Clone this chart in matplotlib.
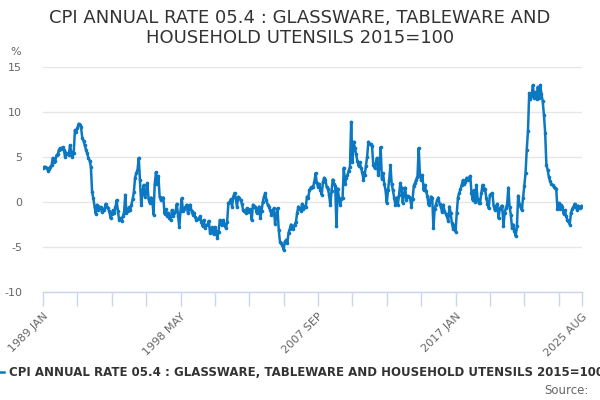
import matplotlib
matplotlib.use("Agg")
import matplotlib.pyplot as plt
import numpy as np

title = "CPI ANNUAL RATE 05.4 : GLASSWARE, TABLEWARE AND\nHOUSEHOLD UTENSILS 2015=100"
series_name = "CPI ANNUAL RATE 05.4 : GLASSWARE, TABLEWARE AND HOUSEHOLD UTENSILS 2015=100"
months = ["JAN", "FEB", "MAR", "APR", "MAY", "JUN", "JUL", "AUG", "SEP", "OCT", "NOV", "DEC"]
categories = [f"{y} {m}" for y in range(1989, 2026) for m in months][:440]

v1989 = [3.8, 3.9, 3.9, 3.8, 3.5, 3.7, 3.9, 4.1, 4.9, 4.5, 4.6, 5.2]
v1990 = [5.3, 5.8, 6.0, 5.9, 6.1, 5.8, 5.0, 5.5, 5.3, 5.2, 6.3, 5.6]
v1991 = [5.0, 5.4, 8.0, 7.8, 8.2, 8.7, 8.6, 8.3, 7.1, 6.8, 6.3, 5.8]
v1992 = [5.4, 4.9, 4.6, 3.9, 1.1, 0.4, -0.5, -1.3, -0.3, -0.9, -0.5, -0.6]
v1993 = [-1.1, -0.8, -0.9, -0.2, -0.5, -0.7, -1.0, -1.8, -1.3, -0.9, -1.2, -0.6]
v1994 = [0.2, -1.0, -2.0, -1.8, -2.1, -1.6, -1.2, 0.8, -1.2, -1.0, -0.6, -0.9]
v1995 = [-0.3, 0.3, 1.1, 2.7, 3.2, 3.6, 4.9, 2.4, -0.3, 1.0, 1.9, 0.6]
v1996 = [1.0, 2.1, 0.3, -0.1, 0.5, 0.3, -1.4, 2.0, 3.3, 2.0, 2.9, 0.6]
v1997 = [0.2, 0.4, 0.5, -1.3, -0.8, -1.5, -1.2, -1.8, -2.0, -0.9, -1.6, -1.2]
v1998 = [-1.0, -0.2, -1.5, -2.8, -1.0, 0.4, -1.0, -0.8, -0.6, -0.3, -1.2, -0.8]
v1999 = [-0.3, -1.0, -1.4, -1.2, -1.7, -2.0, -1.9, -1.8, -1.6, -2.2, -2.7, -2.0]
v2000 = [-2.9, -2.6, -2.5, -2.1, -3.4, -3.0, -2.8, -3.6, -2.8, -3.2, -4.0, -3.3]
v2001 = [-2.0, -2.4, -2.6, -2.0, -2.6, -2.9, -2.2, -0.1, 0.0, 0.3, -0.5, 0.6]
v2002 = [1.0, 0.4, -0.5, 0.6, 0.4, 0.2, -0.2, -0.9, -1.0, -1.2, -0.7, -1.1]
v2003 = [-1.0, -0.8, -2.0, -0.3, -0.6, -0.5, -1.2, -0.8, -0.5, -1.8, -1.0, 0.0]
v2004 = [0.6, 1.0, 0.2, -0.3, -0.5, -0.9, -1.4, -1.3, -0.7, -2.4, -1.5, -0.7]
v2005 = [-3.1, -4.4, -4.6, -4.8, -5.3, -4.4, -4.2, -4.6, -3.4, -3.0, -2.5, -2.8]
v2006 = [-3.0, -2.5, -2.2, -1.2, -0.5, -0.8, -1.0, -0.2, -0.8, -0.5, -0.6, 0.6]
v2007 = [0.4, 1.3, 1.6, 1.7, 1.7, 2.2, 3.2, 2.1, 1.7, 2.0, 1.3, 0.8]
v2008 = [2.2, 2.7, 2.5, 1.7, 1.5, 0.8, -0.3, 1.2, 2.5, 2.0, 1.8, -2.7]
v2009 = [1.5, 0.5, -0.3, 0.3, 0.5, 3.8, 2.0, 2.7, 3.0, 3.5, 3.9, 8.9]
v2010 = [4.5, 6.7, 6.0, 5.3, 4.6, 4.0, 4.4, 3.8, 3.3, 2.5, 3.0, 4.0]
v2011 = [5.0, 6.7, 6.5, 6.4, 6.2, 4.1, 3.8, 4.3, 4.9, 3.0, 3.8, 6.1]
v2012 = [2.6, 3.2, 2.0, 1.3, -0.1, 1.3, 2.5, 4.1, 2.0, 1.3, 0.5, -0.3]
v2013 = [0.5, -0.3, 0.8, 2.1, 1.6, -0.1, 0.8, 1.6, 0.2, 0.7, 0.6, 0.4]
v2014 = [-0.5, 0.3, 1.8, 2.1, 2.5, 2.8, 6.0, 3.0, 2.4, 3.0, 1.3, 1.9]
v2015 = [1.2, 0.7, -0.3, 0.0, 0.6, 0.5, -2.9, -0.8, -0.3, 0.2, 0.5, -0.2]
v2016 = [-0.5, -1.1, -0.3, -1.0, -1.3, -1.6, -2.1, -0.5, -1.2, -2.3, -3.0, -2.6]
v2017 = [-3.3, -1.2, 0.5, 1.0, 1.4, 1.9, 2.4, 2.0, 2.2, 2.7, 2.5, 2.7]
v2018 = [2.9, 1.0, 0.2, 1.3, 0.0, 1.9, 0.3, -0.1, -0.1, 1.0, 1.9, 1.3]
v2019 = [1.5, 0.5, -0.2, -0.7, 0.8, 0.9, 1.0, -0.4, -0.9, -0.5, -0.2, -1.8]
v2020 = [-0.8, -0.5, -0.4, -2.7, -1.2, -0.7, -0.3, 1.6, -0.5, -1.4, -2.9, -2.5]
v2021 = [-3.2, -3.8, -2.7, 0.7, -0.2, -0.6, -0.9, 0.4, 1.8, 3.2, 5.8, 7.9]
v2022 = [12.1, 11.5, 11.8, 13.0, 11.6, 12.2, 11.4, 12.8, 11.6, 13.0, 12.0, 11.2]
v2023 = [9.7, 7.7, 4.1, 3.6, 2.8, 2.3, 2.0, 1.9, 1.7, 1.6, 1.5, -0.8]
v2024 = [-0.1, -0.8, -0.3, -0.5, -1.3, -0.9, -1.5, -2.0, -2.1, -2.5, -1.2, -0.8]
v2025 = [-0.6, -0.2, -0.5, -0.9, -0.4, -0.7, -0.5, -0.4]

values = (v1989 + v1990 + v1991 + v1992 + v1993 + v1994 + v1995 + v1996 + v1997 + v1998
          + v1999 + v2000 + v2001 + v2002 + v2003 + v2004 + v2005 + v2006 + v2007 + v2008
          + v2009 + v2010 + v2011 + v2012 + v2013 + v2014 + v2015 + v2016 + v2017 + v2018
          + v2019 + v2020 + v2021 + v2022 + v2023 + v2024 + v2025)

y_ticks = [-10, -5, 0, 5, 10, 15]
label_cats = ["1989 JAN", "1998 MAY", "2007 SEP", "2017 JAN", "2025 AUG"]

plt.rcParams['font.family'] = ['DejaVu Sans']
fig = plt.figure(figsize=(6, 4), dpi=100)
ax = fig.add_axes([43/600, 1-292/400, (582-43)/600, (292-67)/400])

x = np.arange(len(values))
color = '#0b78c1'
ax.plot(x, values, color=color, lw=1.8, marker='o', ms=2.6, mew=0, zorder=3)

ax.set_xlim(0, len(values) - 1)
ax.set_ylim(-10, 15)
ax.set_yticks(y_ticks)
ax.set_yticklabels([str(t) for t in y_ticks])
ax.grid(axis='y', color='#e6e6e6', lw=1)
ax.set_axisbelow(True)
for s in ['top', 'right', 'left']:
    ax.spines[s].set_visible(False)
ax.spines['bottom'].set_color('#ccd6eb')
ax.spines['bottom'].set_linewidth(1)
ax.tick_params(axis='y', length=0, pad=15, labelsize=8, labelcolor='#666666')

label_idx = [categories.index(c) for c in label_cats]
tick_pos = sorted(set(list(range(0, len(values), 28)) + label_idx))
tick_lab = [categories[i] if i in label_idx else "" for i in tick_pos]
ax.set_xticks(tick_pos)
ax.set_xticklabels(tick_lab, rotation=45, ha='right', va='top', rotation_mode='anchor')
ax.tick_params(axis='x', which='major', length=10, color='#ccd6eb', width=1, pad=4,
               labelsize=8, labelcolor='#666666')

fig.text(0.5, 1-28/400, title, ha='center', va='center', fontsize=13, color='#333333',
         linespacing=1.2)
fig.text(10/600, 1-52/400, '%', ha='left', va='center', fontsize=8, color='#666666')

fig.lines.append(plt.Line2D([0, 4/600], [1-372/400, 1-372/400], transform=fig.transFigure,
                            color=color, lw=1.8))
fig.text(9/600, 1-372/400, series_name, ha='left', va='center', fontsize=8.5,
         fontweight='bold', color='#333333')
fig.text(589/600, 1-390/400, 'Source:', ha='right', va='center', fontsize=8.5, color='#666666')

fig.savefig('out.png', dpi=100)
